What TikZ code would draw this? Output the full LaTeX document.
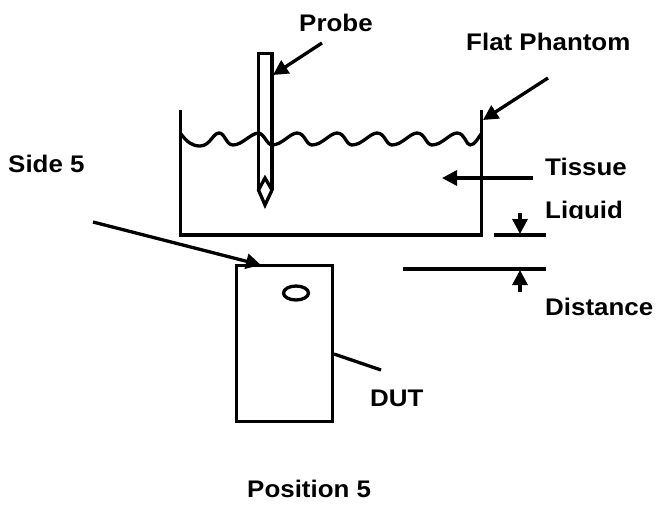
\documentclass[tikz,border=0pt]{standalone}
\usepackage{fontspec}
\setmainfont{Liberation Sans}
\usetikzlibrary{arrows.meta,shapes.geometric}
\tikzset{
  ink/.style={line width=3.3pt,black,line cap=butt,line join=miter},
  pointer/.style={ink,-{Triangle[length=15pt,width=15pt]}},
  lab/.style={anchor=base west,inner sep=0pt,font=\fontsize{24pt}{26pt}\selectfont\bfseries,xscale=1.08}
}
\begin{document}
\begin{tikzpicture}[x=1pt,y=-1pt]
\useasboundingbox (0,0) rectangle (656,512);
% labels
\node[lab] (probe) at (299,31) {Probe};
\node[lab] (flat) at (466,50) {Flat Phantom};
\node[lab] (side) at (8,172) {Side 5};
\node[lab] (tissue) at (545,175) {Tissue};
\begin{scope}
\clip (540,190) rectangle (656,218);
\node[lab] (liquid) at (545,218) {Liquid};
\end{scope}
\node[lab] (dist) at (545,315) {Distance};
\node[lab] (dut) at (370,406) {DUT};
\node[lab] (pos) at (247,497) {Position 5};
% tank
\coordinate (tl) at (180.5,110);
\coordinate (bl) at (180.5,235);
\coordinate (br) at (481.5,235);
\coordinate (tr) at (481.5,110);
\draw[ink] (tl) -- (bl) -- (br) -- (tr);
% liquid surface
\draw[ink,line join=round] (181,134) .. controls (187,142) and (192,146) .. (200,146)
  .. controls (210,146) and (213,133) .. (219,133)
  .. controls (225,133) and (226,145) .. (233,145)
  .. controls (242,145) and (250,134) .. (258,133)
  .. controls (264,133) and (267,145) .. (272,145)
  .. controls (282,145) and (290,133) .. (297,133)
  .. controls (305,133) and (306,145) .. (312,145)
  .. controls (322,145) and (330,133) .. (337,133)
  .. controls (345,133) and (346,145) .. (352,145)
  .. controls (362,145) and (370,133) .. (377,133)
  .. controls (385,133) and (386,145) .. (392,145)
  .. controls (402,145) and (410,133) .. (417,133)
  .. controls (425,133) and (426,145) .. (432,145)
  .. controls (442,145) and (450,133) .. (457,133)
  .. controls (465,133) and (466,145) .. (470,145)
  .. controls (475,145) and (478,138) .. (481,134);
% probe
\coordinate (pl) at (258.5,190);
\coordinate (ptl) at (258.5,53.5);
\coordinate (ptr) at (272,53.5);
\coordinate (pr) at (272,190);
\coordinate (ptip) at (265,205);
\coordinate (ptop) at (265,178);
\draw[ink] (pl) -- (ptl) -- (ptr) -- (pr);
\draw[ink,miter limit=10] (ptop) -- (pr) -- (ptip) -- (pl) -- cycle;
% DUT
\node[draw,ink,inner sep=0pt,outer sep=0pt,anchor=north west,minimum height=156pt,minimum width=96pt] (device) at (236.7,265.7) {};
\node[draw,ink,ellipse,inner sep=0pt,minimum width=25pt,minimum height=14pt] (hole) at (296,293) {};
\coordinate (dutend) at (381,370);
\coordinate (dutstart) at (334,354);
\draw[ink] (dutstart) -- (dutend);
% pointers
\coordinate (a1) at (322,43); \coordinate (a2) at (273,75);
\draw[pointer] (a1) -- (a2);
\coordinate (b1) at (548,78); \coordinate (b2) at (483,120);
\draw[pointer] (b1) -- (b2);
\coordinate (c1) at (533,178); \coordinate (c2) at (442,178);
\draw[pointer] (c1) -- (c2);
\coordinate (d1) at (93,222); \coordinate (d2) at (261,265);
\draw[pointer] (d1) -- (d2);
% distance
\coordinate (e1) at (494,235); \coordinate (e2) at (546,235);
\draw[ink] (e1) -- (e2);
\coordinate (f1) at (403,269); \coordinate (f2) at (546,269);
\draw[ink] (f1) -- (f2);
\coordinate (g1) at (520,213); \coordinate (g2) at (520,234);
\draw[pointer] (g1) -- (g2);
\coordinate (h1) at (520,292); \coordinate (h2) at (520,270);
\draw[pointer] (h1) -- (h2);
\end{tikzpicture}
\end{document}
